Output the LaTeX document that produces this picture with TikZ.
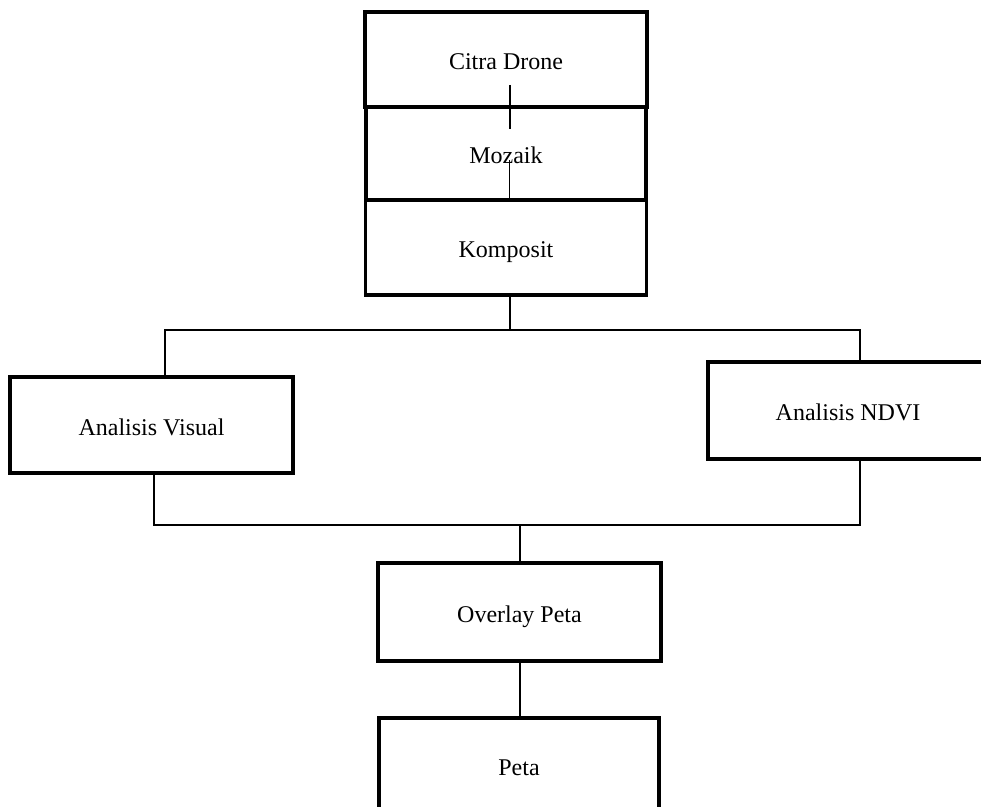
\documentclass[tikz,border=0pt]{standalone}
\usepackage{fontspec}
\setmainfont{Liberation Serif}
\usetikzlibrary{
  calc,
  positioning,
}

\begin{document}
\begin{tikzpicture}[x=0.5pt,y=-0.5pt,node distance=0pt and 0pt,
    kotak/.style={draw,rectangle,line width=1.6pt,inner sep=0pt,outer sep=0pt,text height=10.5pt,text depth=0pt,font=\fontsize{12}{14}\selectfont},
    garis/.style={line width=0.8pt}]

        \useasboundingbox (0,0) rectangle (981,807);

        \node[kotak,minimum width=141pt,minimum height=47.5pt]    (cd)    at (506,59.5)     {Citra Drone};
        \node[kotak,minimum width=140pt,minimum height=46.5pt]    (mz)    [below=of cd]     {Mozaik};
        \node[kotak,minimum width=140.5pt,minimum height=47.5pt]  (kp)    [below=of mz]     {Komposit};

        \node[kotak,minimum width=141.5pt,minimum height=48pt]    (av)    at (151.5,425)    {Analisis Visual};
        \node[kotak,minimum width=140pt,minimum height=48.5pt]    (nd)    at (848,410.5)    {Analisis NDVI};

        \node[kotak,minimum width=141.5pt,minimum height=49pt]    (op)    at (519.5,612)    {Overlay Peta};
        \node[kotak,minimum width=140pt,minimum height=47pt]      (pt)    at (519,765)      {Peta};

        % potongan garis di dalam kotak atas
        \coordinate (cda) at ([xshift=2pt,yshift=11pt]cd.south);
        \coordinate (mza) at ([xshift=2pt,yshift=-11pt]mz.north);
        \coordinate (mzc) at ([xshift=1.75pt,yshift=-3.25pt]mz.center);
        \draw[garis] (cda) -- (mza);
        \draw[garis] (mzc) -- (mzc |- kp.north);

        % percabangan
        \coordinate (atas)  at (510,330);
        \coordinate (kiri)  at (165,330);
        \coordinate (kanan) at (860,330);
        \draw[garis] (kp.south -| atas) -- (atas);
        \draw[garis] (kiri |- av.north) -- (kiri) -- (kanan) -- (kanan |- nd.north);

        % penggabungan
        \coordinate (bawahkiri)  at (154,525);
        \coordinate (bawahkanan) at (860,525);
        \coordinate (tengah)     at (520,525);
        \draw[garis] (bawahkiri |- av.south) -- (bawahkiri) -- (bawahkanan) -- (bawahkanan |- nd.south);
        \draw[garis] (tengah) -- (tengah |- op.north);
        \draw[garis] (op.south -| tengah) -- (tengah |- pt.north);

\end{tikzpicture}
\end{document}
